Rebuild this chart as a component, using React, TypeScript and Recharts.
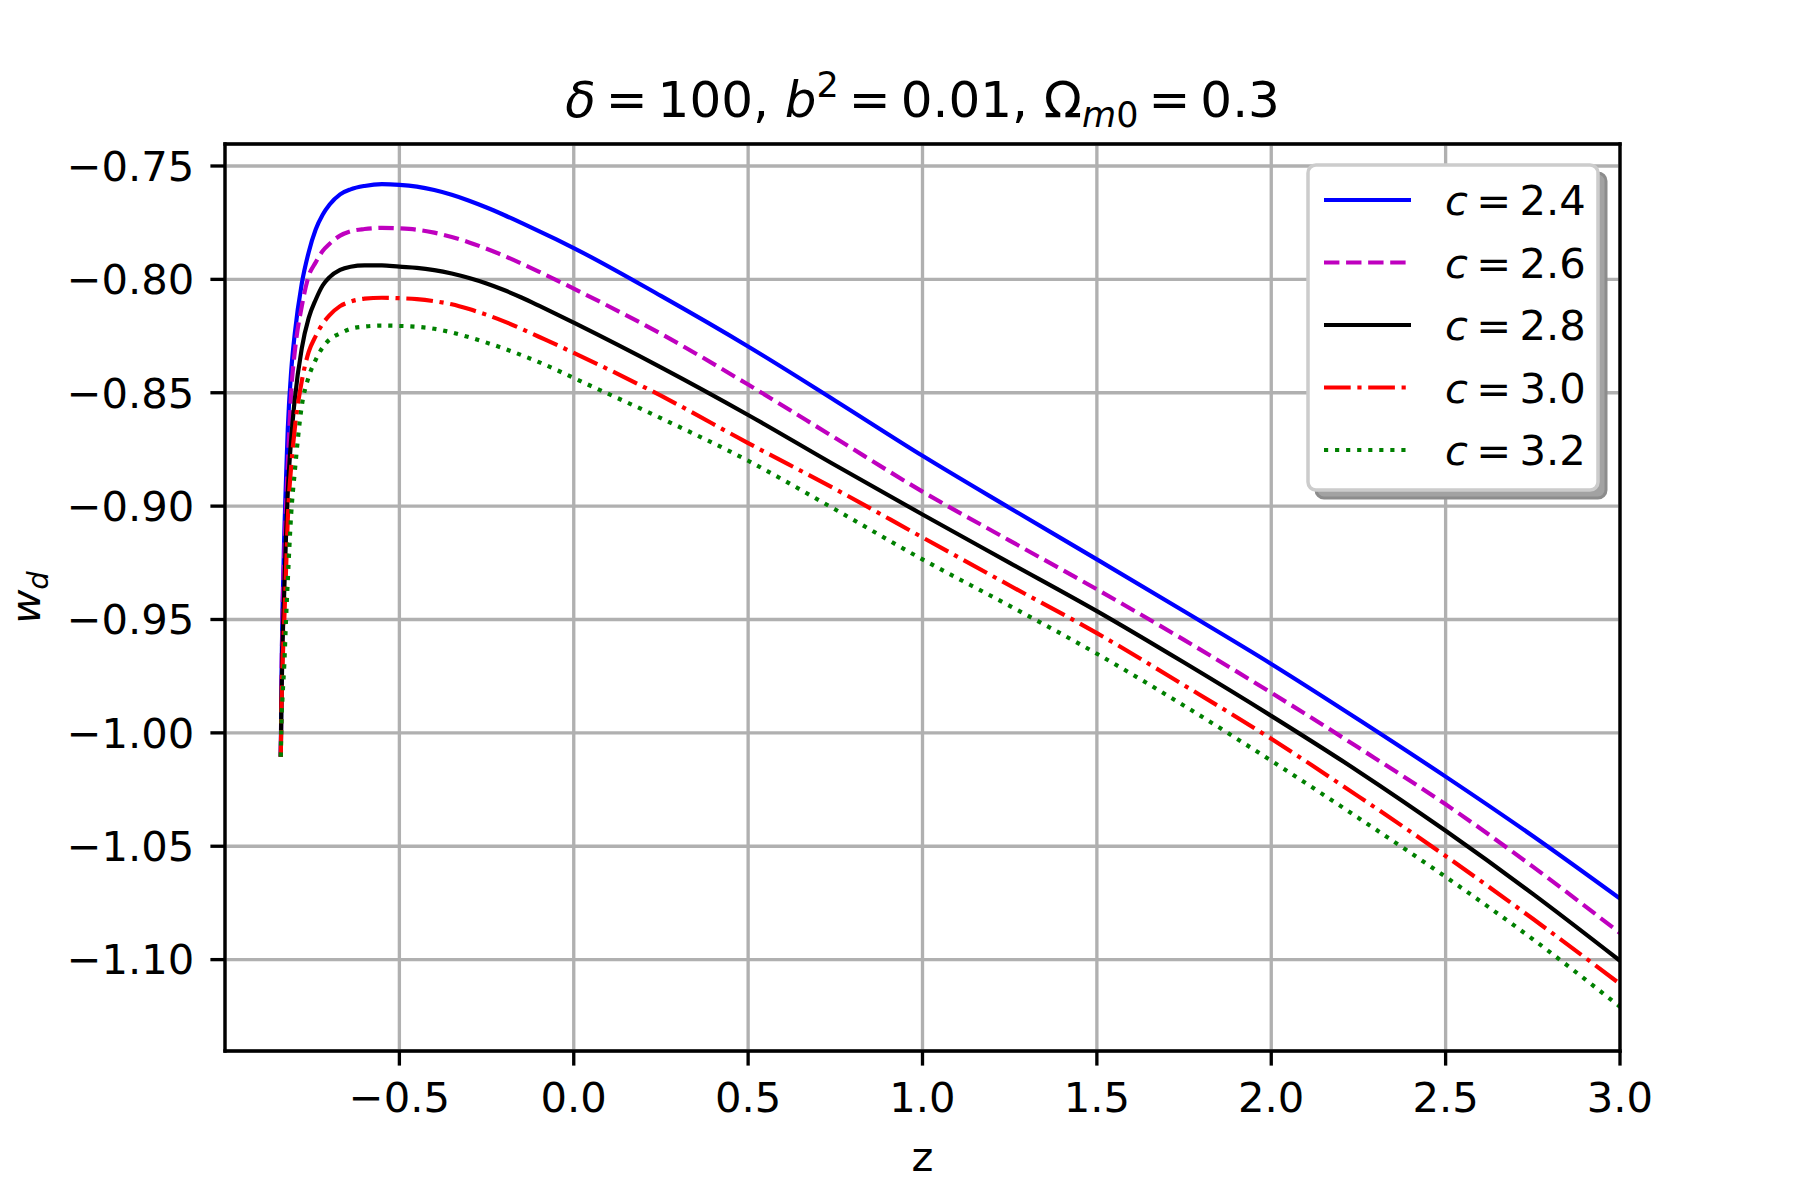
import React from 'react';
import { LineChart, Line, XAxis, YAxis, CartesianGrid, Legend, ReferenceLine } from 'recharts';

// redshift grid and w_d values
const zValues = [
  -0.84, -0.838, -0.835, -0.83, -0.825, -0.82, -0.81, -0.8, -0.78, -0.76, -0.74, -0.72,
  -0.7, -0.67, -0.64, -0.6, -0.55,
  -0.5, -0.45, -0.4, -0.35, -0.3, -0.25, -0.2, -0.15, -0.1, -0.05, 0,
  0.25, 0.5, 0.75, 1, 1.25, 1.5, 1.75, 2, 2.25, 2.5, 2.75, 3,
];

const wC24 = [
  -1.0105, -0.975, -0.945, -0.912, -0.888, -0.866, -0.84, -0.824, -0.802, -0.788, -0.778, -0.7715,
  -0.767, -0.7625, -0.7603, -0.7588, -0.758,
  -0.7583, -0.7591, -0.7606, -0.7627, -0.7653, -0.7683, -0.7716, -0.7751, -0.7787, -0.7824, -0.7862,
  -0.8073, -0.8296, -0.8535, -0.8778, -0.9008, -0.9235, -0.9464, -0.9696, -0.9941, -1.0193, -1.0455, -1.0731,
];

const wC26 = [
  -1.0105, -0.978, -0.947, -0.921, -0.9, -0.882, -0.849, -0.832, -0.812, -0.7985, -0.7925, -0.7875,
  -0.7843, -0.7807, -0.7788, -0.7778, -0.7773,
  -0.7775, -0.7781, -0.7794, -0.7813, -0.7837, -0.7865, -0.7896, -0.793, -0.7966, -0.8003, -0.8041,
  -0.824, -0.8464, -0.87, -0.8936, -0.9152, -0.9367, -0.959, -0.9823, -1.0065, -1.0315, -1.059, -1.0883,
];

const wC28 = [
  -1.0105, -0.985, -0.962, -0.937, -0.913, -0.894, -0.87, -0.853, -0.8305, -0.817, -0.809, -0.8027,
  -0.799, -0.7958, -0.7944, -0.7938, -0.7938,
  -0.7944, -0.7949, -0.7959, -0.7974, -0.7994, -0.8018, -0.8047, -0.808, -0.8116, -0.8153, -0.8191,
  -0.8388, -0.8598, -0.882, -0.9037, -0.925, -0.9463, -0.969, -0.9925, -1.017, -1.0432, -1.071, -1.1005,
];

const wC30 = [
  -1.0105, -0.988, -0.97, -0.95, -0.928, -0.906, -0.882, -0.866, -0.845, -0.832, -0.825, -0.8196,
  -0.8158, -0.8118, -0.8098, -0.8085, -0.8081,
  -0.8083, -0.8087, -0.8096, -0.811, -0.8131, -0.8156, -0.8185, -0.8218, -0.8253, -0.8288, -0.8324,
  -0.8513, -0.8722, -0.8925, -0.9138, -0.935, -0.956, -0.979, -1.0026, -1.028, -1.0543, -1.082, -1.1107,
];

const wC32 = [
  -1.0105, -0.995, -0.984, -0.97, -0.95, -0.933, -0.903, -0.885, -0.856, -0.843, -0.8355, -0.83,
  -0.8265, -0.8238, -0.8218, -0.8208, -0.8204,
  -0.8205, -0.8209, -0.8218, -0.8234, -0.8255, -0.8279, -0.8305, -0.8334, -0.8365, -0.8399, -0.8435,
  -0.8612, -0.88, -0.9015, -0.9235, -0.944, -0.9651, -0.988, -1.0123, -1.0375, -1.0635, -1.091, -1.1208,
];

const cLabels = ['2.4', '2.6', '2.8', '3.0', '3.2'];
const xTicks = [-0.5, 0, 0.5, 1, 1.5, 2, 2.5, 3];
const yTicks = [-1.1, -1.05, -1.0, -0.95, -0.9, -0.85, -0.8, -0.75];
const xDomain = [-1, 3];
const yDomain = [-1.1403, -0.7403];

const data = zValues.map((z, i) => ({
  z,
  c24: wC24[i],
  c26: wC26[i],
  c28: wC28[i],
  c30: wC30[i],
  c32: wC32[i],
}));

const LW = 4.17;
const series = [
  { key: 'c24', label: cLabels[0], color: '#0000ff', dash: undefined },
  { key: 'c26', label: cLabels[1], color: '#bf00bf', dash: '15.4 6.67' },
  { key: 'c28', label: cLabels[2], color: '#000000', dash: undefined },
  { key: 'c30', label: cLabels[3], color: '#ff0000', dash: '26.7 6.67 4.17 6.67' },
  { key: 'c32', label: cLabels[4], color: '#008000', dash: '4.17 6.88' },
];

const FONT = '"DejaVu Sans", sans-serif';
const FS = 41.7;
const TS = '\u2009'; // thin space, like mathtext around "="
const spine = { stroke: '#000', strokeWidth: 3.33, strokeLinecap: 'square' as const };
const minus = (s: string) => s.replace('-', '\u2212');

const renderLegend = () => (
  <svg width={320} height={345} style={{ display: 'block' }}>
    <rect x={16} y={16} width={290} height={325} rx={8} fill="#a2a2a2" stroke="#8c8c8c" strokeWidth={3} />
    <rect x={8} y={8} width={290} height={325} rx={8} fill="#fff" stroke="#cccccc" strokeWidth={3.5} />
    {series.map((s, i) => {
      const cy = 43 + i * 62.5;
      return (
        <g key={s.key}>
          <line x1={24} x2={111} y1={cy} y2={cy} stroke={s.color} strokeWidth={LW} strokeDasharray={s.dash} />
          <text x={145} y={cy + 15} fontSize={FS} fontFamily={FONT} fill="#000" style={{ whiteSpace: 'pre' }}>
            <tspan fontStyle="italic">c</tspan>
            <tspan>{TS + '=' + TS + s.label}</tspan>
          </text>
        </g>
      );
    })}
  </svg>
);

export default function App() {
  return (
    <div style={{ position: 'absolute', left: 0, top: 0, width: 1800, height: 1200, background: '#fff', fontFamily: FONT }}>
      <LineChart width={1800} height={1200} data={data} margin={{ top: 144, right: 180, bottom: 49, left: 0 }}>
        <CartesianGrid stroke="#b0b0b0" strokeWidth={3.33} />
        <XAxis
          dataKey="z"
          type="number"
          domain={xDomain}
          ticks={xTicks}
          allowDataOverflow
          height={100}
          tickSize={14.6}
          tickMargin={17}
          axisLine={spine}
          tickLine={{ stroke: '#000', strokeWidth: 3.33 }}
          tick={{ fill: '#000', fontSize: FS, fontFamily: FONT }}
          tickFormatter={(v: number) => minus(v.toFixed(1))}
        />
        <YAxis
          type="number"
          domain={yDomain}
          ticks={yTicks}
          allowDataOverflow
          width={225}
          tickSize={14.6}
          tickMargin={16}
          axisLine={spine}
          tickLine={{ stroke: '#000', strokeWidth: 3.33 }}
          tick={{ fill: '#000', fontSize: FS, fontFamily: FONT }}
          tickFormatter={(v: number) => minus(v.toFixed(2))}
        />
        {series.map((s) => (
          <Line
            key={s.key}
            dataKey={s.key}
            type="monotone"
            stroke={s.color}
            strokeWidth={LW}
            strokeDasharray={s.dash}
            dot={false}
            activeDot={false}
            isAnimationActive={false}
          />
        ))}
        {/* top and right spines */}
        <ReferenceLine y={yDomain[1]} stroke="#000" strokeWidth={3.33} strokeLinecap="square" />
        <ReferenceLine x={xDomain[1]} stroke="#000" strokeWidth={3.33} strokeLinecap="square" />
        <Legend
          layout="vertical"
          align="center"
          verticalAlign="middle"
          content={renderLegend}
          wrapperStyle={{ left: 1300, top: 157, width: 320, height: 345 }}
        />
      </LineChart>
      <svg
        width={1800}
        height={1200}
        style={{ position: 'absolute', left: 0, top: 0, pointerEvents: 'none' }}
        fontFamily={FONT}
      >
        <text x={922.5} y={117} textAnchor="middle" fontSize={50} fill="#000" style={{ whiteSpace: 'pre' }}>
          <tspan fontStyle="italic">δ</tspan>
          <tspan>{TS + '=' + TS + '100, '}</tspan>
          <tspan fontStyle="italic">b</tspan>
          <tspan fontSize={35} dy={-20}>2</tspan>
          <tspan dy={20}>{TS + '=' + TS + '0.01, Ω'}</tspan>
          <tspan fontSize={35} fontStyle="italic" dy={10}>m</tspan>
          <tspan fontSize={35}>0</tspan>
          <tspan dy={-10}>{TS + '=' + TS + '0.3'}</tspan>
        </text>
        <text x={922.5} y={1171} textAnchor="middle" fontSize={FS} fill="#000">z</text>
        <text transform="translate(40, 597.5) rotate(-90)" textAnchor="middle" fontSize={FS} fill="#000">
          <tspan fontStyle="italic">w</tspan>
          <tspan fontSize={29} fontStyle="italic" dy={8}>d</tspan>
        </text>
      </svg>
    </div>
  );
}
